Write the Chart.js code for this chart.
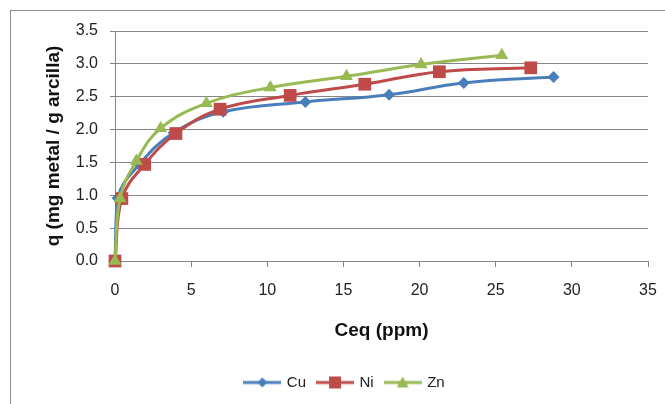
<!DOCTYPE html>
<html>
<head>
<meta charset="utf-8">
<script src="https://cdn.jsdelivr.net/npm/chart.js@4.4.1/dist/chart.umd.min.js"></script>
<style>
  html, body { margin: 0; padding: 0; background: #fff; }
  #wrap { position: relative; width: 665px; height: 404px; }
</style>
</head>
<body>
<div id="wrap"><canvas id="chart" width="665" height="404"></canvas></div>
<script>
// Ceq (ppm) / q (mg metal / g arcilla)
var cuCeq = [0, 0.17, 1.6, 3.85, 7.1, 12.5, 18.0, 22.9, 28.8];
var cuQ   = [0, 0.96, 1.47, 1.95, 2.27, 2.42, 2.53, 2.71, 2.80];
var niCeq = [0, 0.45, 1.95, 4.0, 6.9, 11.5, 16.4, 21.3, 27.3];
var niQ   = [0, 0.95, 1.47, 1.94, 2.31, 2.52, 2.69, 2.88, 2.94];
var znCeq = [0, 0.33, 1.4, 3.0, 6.0, 10.2, 15.2, 20.1, 25.4];
var znQ   = [0, 0.95, 1.52, 2.02, 2.40, 2.64, 2.81, 2.99, 3.13];
var seriesNames = ['Cu', 'Ni', 'Zn'];

var COLORS = ['#4a7ebb', '#be4b48', '#98b954'];
var STYLES = ['rectRot', 'rect', 'triangle'];
var RADII = [6, 9, 7.5];

function points(xs, ys) {
    return xs.map(function(x, i) { return { x: x, y: ys[i] }; });
}

// small picture for the legend: line with marker on it, like excel
function legendImage(idx) {
    var c = document.createElement('canvas');
    c.width = 38;
    c.height = 16;
    var g = c.getContext('2d');
    g.strokeStyle = COLORS[idx];
    g.lineWidth = 3;
    g.beginPath();
    g.moveTo(0, 8);
    g.lineTo(38, 8);
    g.stroke();
    g.fillStyle = COLORS[idx];
    g.beginPath();
    if (idx === 0) {
        g.moveTo(19, 3); g.lineTo(24, 8); g.lineTo(19, 13); g.lineTo(14, 8);
    } else if (idx === 1) {
        g.rect(13, 2, 12, 12);
    } else {
        g.moveTo(19, 2); g.lineTo(25, 13); g.lineTo(13, 13);
    }
    g.closePath();
    g.fill();
    return c;
}

var frame = {
    id: 'frame',
    beforeDraw: function(chart) {
        var ctx = chart.ctx;
        ctx.save();
        ctx.fillStyle = '#fff';
        ctx.fillRect(0, 0, chart.width, chart.height);
        ctx.strokeStyle = '#8c8c8c';
        ctx.lineWidth = 1;
        ctx.strokeRect(10.5, 10.5, 800, 600);
        ctx.restore();
    }
};

var datasets = [
    { data: points(cuCeq, cuQ) },
    { data: points(niCeq, niQ) },
    { data: points(znCeq, znQ) }
].map(function(d, i) {
    d.label = seriesNames[i];
    d.borderColor = COLORS[i];
    d.backgroundColor = COLORS[i];
    d.pointBackgroundColor = COLORS[i];
    d.pointBorderColor = COLORS[i];
    d.pointBorderWidth = 0;
    d.pointStyle = STYLES[i];
    d.pointRadius = RADII[i];
    d.pointHoverRadius = RADII[i];
    d.borderWidth = 3;
    d.showLine = true;
    d.tension = 0.4;
    d.clip = false;
    d.order = 3 - i; // Zn on top
    return d;
});

var tickFont = { family: 'Liberation Sans', size: 16 };
var titleFont = { family: 'Liberation Sans', size: 19, weight: 'bold' };

new Chart(document.getElementById('chart'), {
    type: 'scatter',
    data: { datasets: datasets },
    plugins: [frame],
    options: {
        responsive: false,
        animation: false,
        layout: { padding: { left: 42, right: 17, top: 31, bottom: 4 } },
        plugins: {
            tooltip: { enabled: false },
            legend: {
                position: 'bottom',
                labels: {
                    usePointStyle: true,
                    pointStyleWidth: 34,
                    padding: 12,
                    color: '#222',
                    font: { family: 'Liberation Sans', size: 15 },
                    sort: function(a, b) { return a.datasetIndex - b.datasetIndex; },
                    generateLabels: function(chart) {
                        var items = Chart.defaults.plugins.legend.labels.generateLabels(chart);
                        items.forEach(function(it) {
                            it.pointStyle = legendImage(it.datasetIndex);
                        });
                        return items;
                    }
                }
            }
        },
        scales: {
            x: {
                type: 'linear',
                min: 0,
                max: 35,
                afterFit: function(scale) {
                    scale.height = 102;
                    scale.paddingLeft = 0;
                    scale.paddingRight = 0;
                },
                ticks: { stepSize: 5, color: '#222', font: tickFont, padding: 14, maxRotation: 0 },
                grid: { drawOnChartArea: false, drawTicks: true, tickLength: 6, color: '#868686' },
                border: { color: '#868686' },
                title: { display: true, text: 'Ceq (ppm)', color: '#111', font: titleFont, padding: { top: 0, bottom: 21 } }
            },
            y: {
                type: 'linear',
                min: 0,
                max: 3.5,
                afterFit: function(scale) {
                    scale.width = 73;
                    scale.paddingTop = 0;
                    scale.paddingBottom = 0;
                },
                ticks: {
                    stepSize: 0.5, color: '#222', font: tickFont, padding: 12,
                    callback: function(v) { return v.toFixed(1); }
                },
                grid: { color: '#868686', tickLength: 5 },
                border: { color: '#868686' },
                title: { display: true, text: 'q (mg metal / g arcilla)', color: '#111', font: titleFont, padding: { top: 0, bottom: 0 } }
            }
        }
    }
});
</script>
</body>
</html>
